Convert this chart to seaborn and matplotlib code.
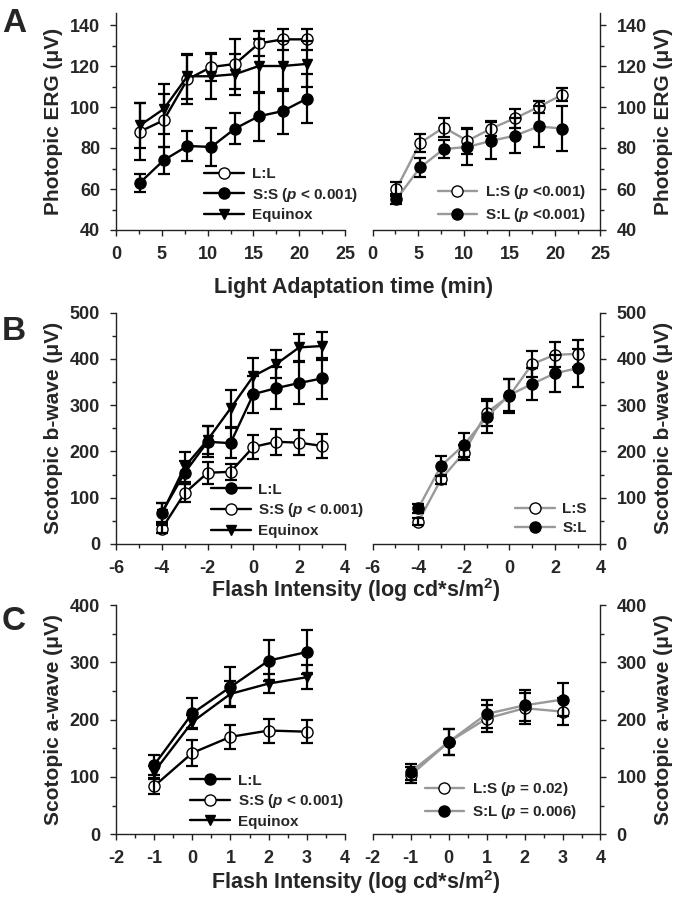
import matplotlib
matplotlib.use("Agg")
import matplotlib.pyplot as plt
import seaborn as sns
from matplotlib.ticker import MultipleLocator

# -------------------------
# Panel A - photopic ERG vs light adaptation time
# -------------------------
time_min = [2.6, 5.2, 7.8, 10.4, 13.0, 15.6, 18.2, 20.8]
a_LL = [88, 93.5, 113.5, 119.5, 121, 131, 133, 133]
a_LL_err = [14, 13, 12, 7, 12, 6, 5, 5]
a_SS = [63, 74, 81, 80.5, 89.5, 95.5, 98, 104]
a_SS_err = [4.5, 6.5, 7.5, 9.5, 7.5, 12, 11, 12]
a_EQ = [91, 99, 115, 115, 116, 120, 120, 121]
a_EQ_err = [11, 12, 11, 11, 10, 13, 12, 11]
a_LS = [60, 82.5, 90, 83.5, 89.5, 94.5, 100, 106]
a_LS_err = [3.5, 4.5, 4.5, 6.5, 3.5, 4.5, 3, 3.3]
a_SL = [55, 70.5, 79.5, 80.5, 83.5, 86, 90.5, 89.5]
a_SL_err = [2.5, 4.5, 4.5, 9, 9, 8.5, 10, 11]

# -------------------------
# Panel B - scotopic b-wave
# -------------------------
flash_b = [-4, -3, -2, -1, 0, 1, 2, 3]
b_LL = [68, 154, 221, 218, 324, 337, 348, 358]
b_LL_err = [20, 25, 33, 33, 40, 45, 45, 44]
b_SS = [33, 110, 154, 156, 210, 221, 219, 212]
b_SS_err = [10, 20, 24, 18, 26, 28, 27, 26]
b_EQ = [65, 167, 225, 293, 363, 389, 425, 428]
b_EQ_err = [24, 32, 30, 40, 38, 30, 30, 30]
b_LS = [48, 140, 197, 284, 320, 389, 409, 411]
b_LS_err = [8, 10, 16, 30, 36, 29, 27, 29]
b_SL = [77, 169, 214, 274, 322, 346, 369, 380]
b_SL_err = [10, 22, 25, 35, 34, 35, 40, 41]

# -------------------------
# Panel C - scotopic a-wave
# -------------------------
flash_c = [-1, 0, 1, 2, 3]
c_LL = [121, 211, 257, 303, 318]
c_LL_err = [17, 26, 35, 36, 39]
c_SS = [84, 142, 170, 181, 179]
c_SS_err = [13, 22, 21, 21, 20]
c_EQ = [109, 196, 245, 263, 274]
c_EQ_err = [10, 12, 22, 17, 21]
c_LS = [103, 161, 202, 220, 214]
c_LS_err = [14, 23, 24, 27, 23]
c_SL = [109, 161, 210, 225, 235]
c_SL_err = [14, 23, 24, 27, 29]

sns.set_style("ticks")
plt.rcParams['font.family'] = ['Liberation Sans', 'DejaVu Sans']
plt.rcParams['font.weight'] = 'bold'
plt.rcParams['axes.labelweight'] = 'bold'
plt.rcParams['axes.unicode_minus'] = False
plt.rcParams['mathtext.fontset'] = 'custom'
plt.rcParams['mathtext.rm'] = 'Liberation Sans:bold'
plt.rcParams['mathtext.it'] = 'Liberation Sans:bold:italic'
plt.rcParams['mathtext.bf'] = 'Liberation Sans:bold'

GRAY = '#999999'

fig = plt.figure(figsize=(6.78, 8.99), dpi=100)
W, H = 678, 899


def make_axes(x0, x1, ytop, ybot):
    return fig.add_axes([x0 / W, 1 - ybot / H, (x1 - x0) / W, (ybot - ytop) / H])


def series(ax, x, y, err, label, marker, face, line_color):
    ms = 8 if marker == 'o' else 6.5
    sns.lineplot(x=x, y=y, ax=ax, color=line_color, linewidth=1.7,
                 marker=marker, markersize=ms, markerfacecolor=face,
                 markeredgecolor='black', markeredgewidth=1.0, label=label)
    ax.errorbar(x, y, yerr=err, fmt='none', ecolor='black', elinewidth=1.6,
                capsize=4.5, capthick=1.6)


def style(ax, side, xlim, ylim, xmaj, xmin, ymaj, ymin, ylabel):
    ax.set_xlim(*xlim)
    ax.set_ylim(*ylim)
    ax.xaxis.set_major_locator(MultipleLocator(xmaj))
    ax.xaxis.set_minor_locator(MultipleLocator(xmin))
    ax.yaxis.set_major_locator(MultipleLocator(ymaj))
    ax.yaxis.set_minor_locator(MultipleLocator(ymin))
    ax.spines['top'].set_visible(False)
    for s in ax.spines.values():
        s.set_linewidth(1.0)
        s.set_color('#222222')
    if side == 'left':
        ax.spines['right'].set_visible(False)
    else:
        ax.spines['left'].set_visible(False)
        ax.yaxis.tick_right()
        ax.yaxis.set_label_position('right')
    ax.tick_params(which='major', direction='out', length=4.5, width=1.0,
                   labelsize=13, pad=7, color='#222222')
    ax.tick_params(which='minor', direction='out', length=3, width=1.0,
                   color='#222222')
    ax.set_xlabel('')
    ax.set_ylabel(ylabel, fontsize=15, fontweight='bold', rotation=90,
                  labelpad=5)
    for t in ax.get_xticklabels() + ax.get_yticklabels():
        t.set_fontweight('bold')


def legend(ax, x, ytop):
    ax.legend(loc='upper left', bbox_to_anchor=(x, ytop), frameon=False,
              handlelength=2.6, handletextpad=0.5,
              labelspacing=0.3, borderpad=0, borderaxespad=0,
              prop={'weight': 'bold', 'size': 11})


lab_a = 'Photopic ERG (μV)'
lab_b = 'Scotopic b-wave (μV)'
lab_c = 'Scotopic a-wave (μV)'

LX0, LX1 = 116, 345
RX0, RX1 = 372.7, 600.5

# Panel A
axA1 = make_axes(LX0, LX1, 12.7, 230)
series(axA1, time_min, a_LL, a_LL_err, 'L:L', 'o', 'white', 'black')
series(axA1, time_min, a_SS, a_SS_err, 'S:S ($\\mathit{p}$ < 0.001)', 'o', 'black', 'black')
series(axA1, time_min, a_EQ, a_EQ_err, 'Equinox', 'v', 'black', 'black')
style(axA1, 'left', (0, 25), (40, 146), 5, 2.5, 20, 10, lab_a)
legend(axA1, 0.385, 0.29)

axA2 = make_axes(RX0, RX1, 12.7, 230)
series(axA2, time_min, a_LS, a_LS_err, 'L:S ($\\mathit{p}$ <0.001)', 'o', 'white', GRAY)
series(axA2, time_min, a_SL, a_SL_err, 'S:L ($\\mathit{p}$ <0.001)', 'o', 'black', GRAY)
style(axA2, 'right', (0, 25), (40, 146), 5, 2.5, 20, 10, lab_a)
legend(axA2, 0.285, 0.215)

# Panel B
axB1 = make_axes(LX0, LX1, 312.7, 544)
series(axB1, flash_b, b_LL, b_LL_err, 'L:L', 'o', 'black', 'black')
series(axB1, flash_b, b_SS, b_SS_err, 'S:S ($\\mathit{p}$ < 0.001)', 'o', 'white', 'black')
series(axB1, flash_b, b_EQ, b_EQ_err, 'Equinox', 'v', 'black', 'black')
style(axB1, 'left', (-6, 4), (0, 500), 2, 1, 100, 50, lab_b)
legend(axB1, 0.415, 0.265)

axB2 = make_axes(RX0, RX1, 312.7, 544)
series(axB2, flash_b, b_LS, b_LS_err, 'L:S', 'o', 'white', GRAY)
series(axB2, flash_b, b_SL, b_SL_err, 'S:L', 'o', 'black', GRAY)
style(axB2, 'right', (-6, 4), (0, 500), 2, 1, 100, 50, lab_b)
legend(axB2, 0.625, 0.18)

# Panel C
axC1 = make_axes(LX0, LX1, 605, 834.3)
series(axC1, flash_c, c_LL, c_LL_err, 'L:L', 'o', 'black', 'black')
series(axC1, flash_c, c_SS, c_SS_err, 'S:S ($\\mathit{p}$ < 0.001)', 'o', 'white', 'black')
series(axC1, flash_c, c_EQ, c_EQ_err, 'Equinox', 'v', 'black', 'black')
style(axC1, 'left', (-2, 4), (0, 400), 1, 0.5, 100, 50, lab_c)
legend(axC1, 0.325, 0.265)

axC2 = make_axes(RX0, RX1, 605, 834.3)
series(axC2, flash_c, c_LS, c_LS_err, 'L:S ($\\mathit{p}$ = 0.02)', 'o', 'white', GRAY)
series(axC2, flash_c, c_SL, c_SL_err, 'S:L ($\\mathit{p}$ = 0.006)', 'o', 'black', GRAY)
style(axC2, 'right', (-2, 4), (0, 400), 1, 0.5, 100, 50, lab_c)
legend(axC2, 0.228, 0.235)

# shared x labels and panel letters
flash_label = 'Flash Intensity (log cd*s/m$^{\\mathbf{2}}$)'
fig.text(353.5 / W, 1 - 293 / H, 'Light Adaptation time (min)', ha='center',
         va='baseline', fontsize=15.5, fontweight='bold')
fig.text(356 / W, 1 - 596.5 / H, flash_label, ha='center', va='baseline',
         fontsize=15.5, fontweight='bold')
fig.text(356 / W, 1 - 889 / H, flash_label, ha='center', va='baseline',
         fontsize=15.5, fontweight='bold')
for letter, yc in [('A', 23), ('B', 331), ('C', 622)]:
    fig.text(2 / W, 1 - yc / H, letter, ha='left', va='center',
             fontsize=24, fontweight='bold')

plt.savefig("out.png", dpi=100)
